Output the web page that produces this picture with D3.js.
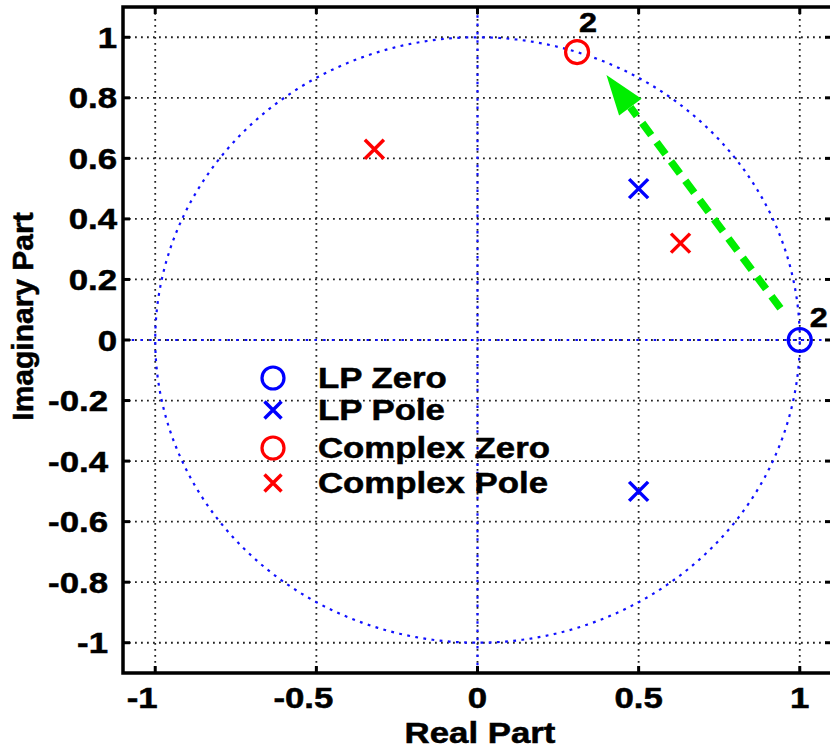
<!DOCTYPE html>
<html>
<head>
<meta charset="utf-8">
<script src="https://cdn.jsdelivr.net/npm/d3@7"></script>
<style>
  html, body { margin: 0; padding: 0; background: #fff; }
  svg { display: block; }
  .lbl { font-family: "Liberation Sans", Arial, Helvetica, sans-serif; font-weight: bold; fill: #000;
         stroke: #000; stroke-width: 0.5px; }
</style>
</head>
<body>
<svg id="chart" width="830" height="748"></svg>
<script>
// Pole-zero data (z-plane)
const lpZeros = [{ re: 1, im: 0, mult: 2 }];
const lpPoles = [{ re: 0.5, im: 0.5 }, { re: 0.5, im: -0.5 }];
const complexZeros = [{ re: 0.309, im: 0.951, mult: 2 }];
const complexPoles = [{ re: -0.32, im: 0.63 }, { re: 0.63, im: 0.32 }];

// Rotation arrow: from the LP zero region towards the complex zero
const arrowFrom = [0.94, 0.105];
const arrowTo = [0.40, 0.875];

const xTicks = [-1, -0.5, 0, 0.5, 1];
const yTicks = [-1, -0.8, -0.6, -0.4, -0.2, 0, 0.2, 0.4, 0.6, 0.8, 1];
const xTickLabels = ["-1", "-0.5", "0", "0.5", "1"];
const yTickLabels = ["-1", "-0.8", "-0.6", "-0.4", "-0.2", "0", "0.2", "0.4", "0.6", "0.8", "1"];

const legendItems = [
  { label: "LP Zero", color: "#0000ff", shape: "o" },
  { label: "LP Pole", color: "#0000ff", shape: "x" },
  { label: "Complex Zero", color: "#ff0000", shape: "o" },
  { label: "Complex Pole", color: "#ff0000", shape: "x" }
];

(function () {
const svg = d3.select("#chart");
const x = d3.scaleLinear().domain([-1.1, 1.1]).range([123, 832]);
const y = d3.scaleLinear().domain([-1.1, 1.1]).range([673, 7]);
const xL = x(-1.1), xR = x(1.1), yT = y(1.1), yB = y(-1.1);
const SX = 1.2; // wide bold lettering
const FS = 29;

svg.append("defs").append("clipPath").attr("id", "plotclip")
  .append("rect").attr("x", xL).attr("y", yT)
  .attr("width", xR - xL).attr("height", yB - yT);

const plot = svg.append("g").attr("clip-path", "url(#plotclip)");

// Dotted grid
const grid = plot.append("g").attr("stroke", "#222").attr("stroke-width", 1.8)
  .attr("stroke-dasharray", "1.8,4.2").attr("fill", "none");
xTicks.forEach(t => grid.append("line").attr("x1", x(t)).attr("x2", x(t)).attr("y1", yT).attr("y2", yB));
yTicks.forEach(t => grid.append("line").attr("y1", y(t)).attr("y2", y(t)).attr("x1", xL).attr("x2", xR));

// Real and imaginary axes, unit circle
const blue = plot.append("g").attr("stroke", "#1010ff").attr("stroke-width", 2.2).attr("fill", "none");
blue.append("line").attr("x1", xL).attr("x2", xR).attr("y1", y(0)).attr("y2", y(0))
  .attr("stroke-dasharray", "2.5,6.2");
blue.append("line").attr("x1", x(0)).attr("x2", x(0)).attr("y1", yT).attr("y2", yB)
  .attr("stroke-dasharray", "2.5,5.8");
const circlePts = d3.range(0, 361, 1).map(a => [Math.cos(a * Math.PI / 180), Math.sin(a * Math.PI / 180)]);
blue.append("path")
  .attr("d", d3.line().x(d => x(d[0])).y(d => y(d[1]))(circlePts))
  .attr("stroke-dasharray", "2.8,5.4");

// Markers
function drawO(g, px, py, color, r) {
  g.append("circle").attr("cx", px).attr("cy", py).attr("r", r)
    .attr("fill", "none").attr("stroke", color).attr("stroke-width", 3.2);
}
function drawX(g, px, py, color, h) {
  g.append("path").attr("d", `M${px - h},${py - h}L${px + h},${py + h}M${px - h},${py + h}L${px + h},${py - h}`)
    .attr("stroke", color).attr("stroke-width", 3.5).attr("fill", "none");
}
const marks = plot.append("g");
lpPoles.forEach(d => drawX(marks, x(d.re), y(d.im), "#0000ff", 9.5));
complexPoles.forEach(d => drawX(marks, x(d.re), y(d.im), "#ff0000", 9.5));
lpZeros.forEach(d => drawO(marks, x(d.re), y(d.im), "#0000ff", 11.5));
complexZeros.forEach(d => drawO(marks, x(d.re), y(d.im), "#ff0000", 11.5));

// Arrow
const ax0 = x(arrowFrom[0]), ay0 = y(arrowFrom[1]);
const ax1 = x(arrowTo[0]), ay1 = y(arrowTo[1]);
const len = Math.hypot(ax1 - ax0, ay1 - ay0);
const ux = (ax1 - ax0) / len, uy = (ay1 - ay0) / len;
const headLen = 40, headHalf = 14;
const bx = ax1 - headLen * ux, by = ay1 - headLen * uy;
const green = "#00ee00";
plot.append("line").attr("x1", ax0).attr("y1", ay0).attr("x2", bx).attr("y2", by)
  .attr("stroke", green).attr("stroke-width", 7.5).attr("stroke-dasharray", "15,9");
plot.append("path")
  .attr("d", `M${ax1},${ay1}L${bx - headHalf * uy},${by + headHalf * ux}L${bx + headHalf * uy},${by - headHalf * ux}Z`)
  .attr("fill", green);

// Axes box and inward ticks
const axes = svg.append("g").attr("stroke", "#000").attr("fill", "none");
axes.append("rect").attr("x", xL).attr("y", yT).attr("width", xR - xL).attr("height", yB - yT)
  .attr("stroke-width", 3.5);
const tl = 7;
xTicks.forEach(t => {
  axes.append("line").attr("x1", x(t)).attr("x2", x(t)).attr("y1", yB).attr("y2", yB - tl).attr("stroke-width", 3);
  axes.append("line").attr("x1", x(t)).attr("x2", x(t)).attr("y1", yT).attr("y2", yT + tl).attr("stroke-width", 3);
});
yTicks.forEach(t => {
  axes.append("line").attr("y1", y(t)).attr("y2", y(t)).attr("x1", xL).attr("x2", xL + tl).attr("stroke-width", 3);
  axes.append("line").attr("y1", y(t)).attr("y2", y(t)).attr("x1", xR).attr("x2", xR - tl).attr("stroke-width", 3);
});

// Text helper with horizontal widening
function wideText(px, py, str, anchor, size) {
  svg.append("g").attr("transform", `translate(${px},${py}) scale(${SX},1)`)
    .append("text").attr("class", "lbl").attr("x", 0).attr("y", 0)
    .attr("text-anchor", anchor).attr("font-size", size || FS).text(str);
}

// Tick labels
xTicks.forEach((t, i) => {
  const shift = t < 0 ? -13 : 0;
  wideText(x(t) + shift, 708, xTickLabels[i], "middle");
});
yTicks.forEach((t, i) => {
  const ex = t < 0 ? 108 : 117;
  wideText(ex, y(t) + 10.5, yTickLabels[i], "end");
});

// Axis titles
wideText(480, 743, "Real Part", "middle");
svg.append("text").attr("class", "lbl").attr("font-size", 30)
  .attr("text-anchor", "middle")
  .attr("transform", `translate(33,316.5) rotate(-90)`)
  .text("Imaginary Part");

// Multiplicity labels
const multLabels = [
  { z: complexZeros[0], dx: 2, dy: -20 },
  { z: lpZeros[0], dx: 10, dy: -13 }
];
multLabels.forEach(m => wideText(x(m.z.re) + m.dx, y(m.z.im) + m.dy, String(m.z.mult), "start", 27));

// Legend
const legY = [378, 410, 448, 483];
const legend = svg.append("g");
legendItems.forEach((d, i) => {
  if (d.shape === "o") drawO(legend, 273, legY[i], d.color, 11);
  else drawX(legend, 273, legY[i], d.color, 8.5);
  wideText(318, legY[i] + 9.5, d.label, "start");
});
})();
</script>
</body>
</html>
